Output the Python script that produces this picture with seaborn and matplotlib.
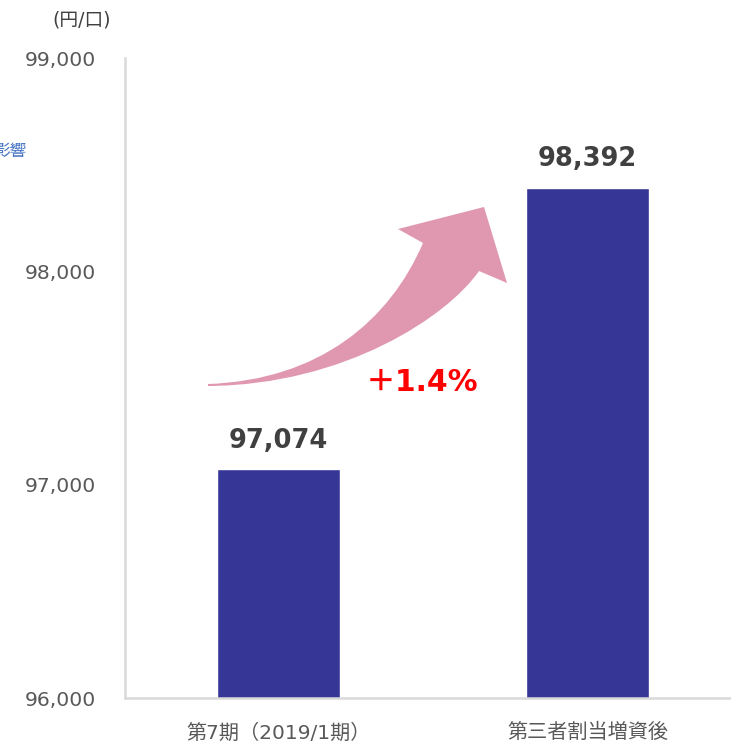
import numpy as np
import pandas as pd
import matplotlib
matplotlib.use('Agg')
import matplotlib.pyplot as plt
import seaborn as sns
from matplotlib.path import Path
from matplotlib.patches import PathPatch

# ==================== データ ====================
categories = ['第7期（2019/1期）', '第三者割当増資後']
values = [97074, 98392]
value_labels = ['97,074', '98,392']
y_ticks = [96000, 97000, 98000, 99000]
change_label = '＋1.4%'
unit_label = '(円/口)'
side_note = '影響'

bar_color = '#363696'
arrow_color = '#E097B0'
grid_gray = '#D9D9D9'
text_gray = '#595959'

sns.set_theme(style='white')
plt.rcParams['font.family'] = ['DejaVu Sans', 'Noto Sans CJK JP']

W, H = 731, 744
fig = plt.figure(figsize=(W / 100, H / 100), dpi=100)
ax = fig.add_axes([125 / W, 1 - 698 / H, 1 - 125 / W, (698 - 58) / H])

df = pd.DataFrame({'cat': categories, 'val': values})
sns.barplot(data=df, x='cat', y='val', color=bar_color, width=0.4,
            saturation=1, ax=ax)

ax.set_ylim(96000, 99000)
ax.set_xlim(-0.497, 1.464)
ax.set_yticks(y_ticks)
ax.set_yticklabels([f'{v:,}' for v in y_ticks])
ax.set_xlabel('')
ax.set_ylabel('')
ax.tick_params(axis='y', length=0, pad=21, labelsize=14.7, labelcolor=text_gray)
ax.tick_params(axis='x', length=0, pad=18, labelsize=14.5, labelcolor=text_gray)

for s in ['top', 'right']:
    ax.spines[s].set_visible(False)
for s in ['left', 'bottom']:
    ax.spines[s].set_color(grid_gray)
    ax.spines[s].set_linewidth(1.8)

ax.bar_label(ax.containers[0], labels=value_labels, padding=11,
             fontsize=18.5, fontweight='bold', color='#404040')

# 増加率
ax.text(0.464, 97480, change_label, ha='center', va='center',
        fontsize=21.5, fontweight='bold', color='#FF0000')

# 曲線矢印（図のピクセル座標で形を定義）
pts_px = [
    (208, 384),
    (320, 380), (390, 320), (423, 243),
    (398, 229),
    (484, 207),
    (507, 283),
    (479, 271),
    (448, 316), (345, 385), (208, 386),
    (208, 384),
]
codes = [Path.MOVETO,
         Path.CURVE4, Path.CURVE4, Path.CURVE4,
         Path.LINETO, Path.LINETO, Path.LINETO, Path.LINETO,
         Path.CURVE4, Path.CURVE4, Path.CURVE4,
         Path.CLOSEPOLY]
verts = [(x / W, 1 - y / H) for x, y in pts_px]
arrow = PathPatch(Path(verts, codes), facecolor=arrow_color,
                  edgecolor='none', transform=fig.transFigure, zorder=1)
fig.patches.append(arrow)

fig.text(82 / W, 1 - 20 / H, unit_label, ha='center', va='center',
         fontsize=13.5, color='#404040')
fig.text(27 / W, 1 - 151 / H, side_note, ha='right', va='center',
         fontsize=12, color='#4472C4')

fig.savefig('out.png', dpi=100)
